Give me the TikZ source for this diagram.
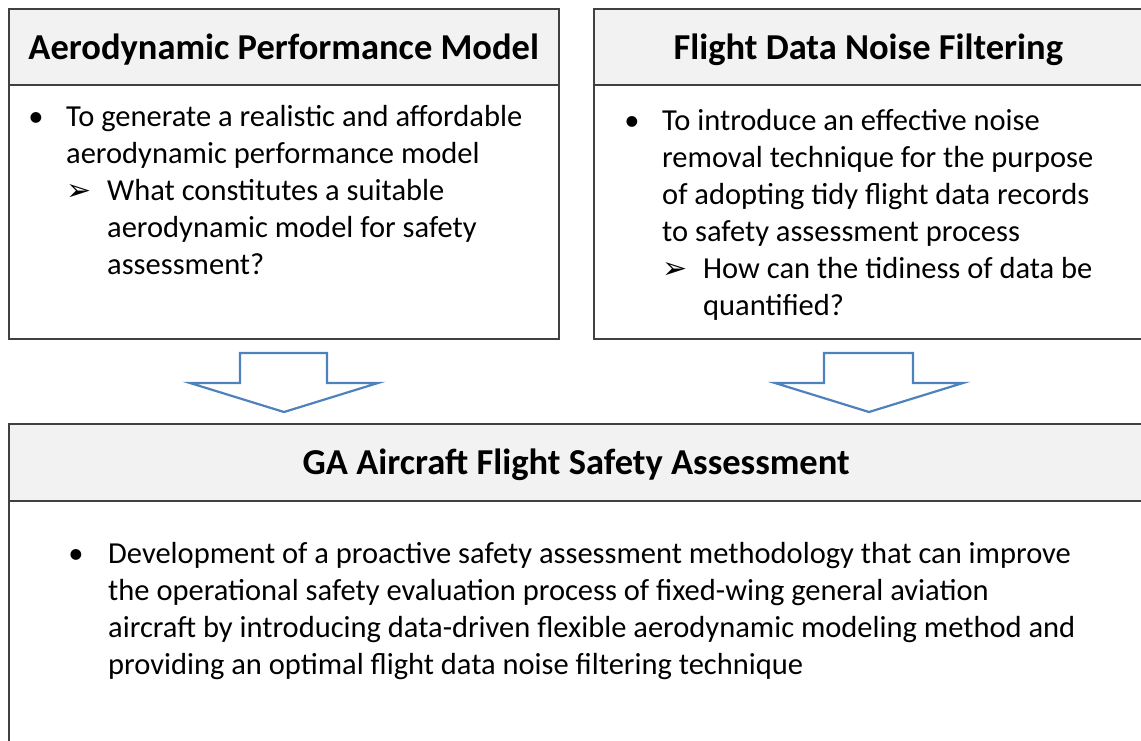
\documentclass[tikz,border=0pt]{standalone}
\usepackage{fontspec}
\setmainfont{Carlito}
\newfontfamily\dingfont{DejaVu Sans}
\usetikzlibrary{positioning}
\definecolor{arrowblue}{RGB}{79,129,189}
\definecolor{headgray}{RGB}{242,242,242}
\definecolor{framegray}{RGB}{64,64,64}

\begin{document}
\begin{tikzpicture}[
  x=1pt, y=-1pt,
  headbox/.style={draw=framegray, line width=1.5pt, fill=headgray, anchor=north west, inner sep=0pt, text height=27pt, text depth=2pt, font=\fontsize{36.5}{40}\selectfont\bfseries},
  bodybox/.style={draw=framegray, line width=1.5pt, fill=white, anchor=north west, inner sep=0pt},
  % base anchor of a multi-line node sits on its last line
  item/.style={anchor=base west, align=left, inner sep=0pt, font=\fontsize{30.5}{37}\selectfont},
  dot/.style={anchor=base, inner sep=0pt, font=\fontsize{30.5}{37}\selectfont},
  subdot/.style={anchor=base, inner sep=0pt, font=\dingfont\fontsize{30}{37}\selectfont},
  blockarrow/.style={draw=arrowblue, line width=2.2pt, fill=white, line join=miter}
]
\clip (0,0) rectangle (1141,740);

% top left: aerodynamic model
\node[bodybox, minimum width=550pt, minimum height=254pt] (aeroBody) at (8,84) {};
\node[headbox, minimum width=550pt, minimum height=76pt] (aeroHead) at (8,8) {Aerodynamic Performance Model};
\node[item] (aeroGoal) at (66,163) {To generate a realistic and affordable\\aerodynamic performance model};
\node[dot] (aeroGoalDot) at (36,126) {•};
\node[item] (aeroQuest) at (107,274) {What constitutes a suitable\\aerodynamic model for safety\\assessment?};
\node[subdot] (aeroQuestDot) at (79,200) {➢};

% top right: noise filtering
\node[bodybox, minimum width=549pt, minimum height=254pt] (noiseBody) at (593,84) {};
\node[headbox, minimum width=549pt, minimum height=76pt] (noiseHead) at (593,8) {Flight Data Noise Filtering};
\node[item] (noiseGoal) at (662,241) {To introduce an effective noise\\removal technique for the purpose\\of adopting tidy flight data records\\to safety assessment process};
\node[dot] (noiseGoalDot) at (632,130) {•};
\node[item] (noiseQuest) at (703,315) {How can the tidiness of data be\\quantified?};
\node[subdot] (noiseQuestDot) at (675,278) {➢};

% bottom: safety assessment
\node[bodybox, minimum width=1135pt, minimum height=250pt] (safetyBody) at (8,500) {};
\node[headbox, minimum width=1135pt, minimum height=77pt] (safetyHead) at (8,423) {GA Aircraft Flight Safety Assessment};
\node[item] (safetyGoal) at (108,674) {Development of a proactive safety assessment methodology that can improve\\the operational safety evaluation process of fixed-wing general aviation\\aircraft by introducing data-driven flexible aerodynamic modeling method and\\providing an optimal flight data noise filtering technique};
\node[dot] (safetyGoalDot) at (76,563) {•};

% block arrows into the assessment box
\draw[blockarrow] (240,353) -- (327,353) -- (327,383) -- (378,383) -- (284,412) -- (190,383) -- (240,383) -- cycle;
\draw[blockarrow] (824,353) -- (913,353) -- (913,383) -- (963,383) -- (869,412) -- (775,383) -- (824,383) -- cycle;
\end{tikzpicture}
\end{document}
